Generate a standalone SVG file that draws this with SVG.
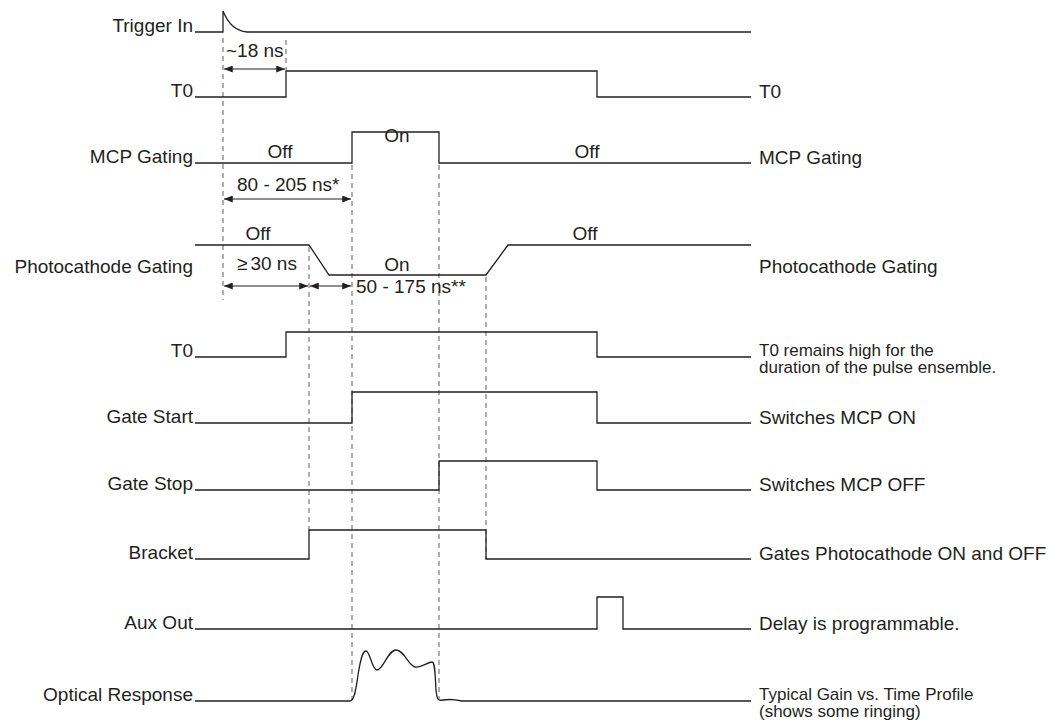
<svg xmlns="http://www.w3.org/2000/svg" width="1059" height="726" viewBox="0 0 1059 726">
<style>
text{font-family:"Liberation Sans",Arial,sans-serif;fill:#231f20;font-size:19px}
.l{text-anchor:end}
.c{text-anchor:middle}
.s{font-size:17px}
.sig{fill:none;stroke:#231f20;stroke-width:1.3}
.dash{fill:none;stroke:#6d6d6d;stroke-width:1.1;stroke-dasharray:5 4}
.dim{fill:none;stroke:#231f20;stroke-width:1.2;marker-start:url(#a);marker-end:url(#a)}
</style>
<defs>
<marker id="a" viewBox="0 0 10 8" refX="10" refY="4" markerWidth="11" markerHeight="7" markerUnits="userSpaceOnUse" orient="auto-start-reverse">
<path d="M0,0 L10,4 L0,8 Z" fill="#231f20"/>
</marker>
</defs>
<rect width="1059" height="726" fill="#fff"/>
<g id="connectors">
<line class="dash" x1="223" y1="38" x2="223" y2="300"/>
<line class="dash" x1="286" y1="40" x2="286" y2="70"/>
<line class="dash" x1="309" y1="247" x2="309" y2="530"/>
<line class="dash" x1="352" y1="165" x2="352" y2="700"/>
<line class="dash" x1="439" y1="165" x2="439" y2="700"/>
<line class="dash" x1="486" y1="277" x2="486" y2="559"/>
<line class="dim" x1="224" y1="69" x2="285" y2="69"/>
<line class="dim" x1="224" y1="199" x2="351" y2="199"/>
<line class="dim" x1="224" y1="286" x2="308" y2="286"/>
<line class="dim" x1="310" y1="286" x2="351" y2="286"/>
<text x="226" y="57">~18 ns</text>
<text x="237" y="191">80 - 205 ns*</text>
<text x="237" y="270">≥<tspan dx="3">30 ns</tspan></text>
<text x="356" y="293">50 - 175 ns**</text>
</g>
<g id="trigger-in">
<text class="l" x="193" y="32">Trigger In</text>
<path class="sig" d="M195,32 H223 V11 C227,21 234,31 247,32 H751"/>
</g>
<g id="t0-top">
<text class="l" x="193" y="97">T0</text>
<path class="sig" d="M195,97 H286 V71 H597 V97 H751"/>
<text x="759" y="98">T0</text>
</g>
<g id="mcp-gating">
<text class="l" x="193" y="163">MCP Gating</text>
<path class="sig" d="M195,163 H352 V132 H439 V163 H751"/>
<text class="c" x="280" y="158">Off</text>
<text class="c" x="397" y="142">On</text>
<text class="c" x="587" y="158">Off</text>
<text x="759" y="164">MCP Gating</text>
</g>
<g id="photocathode-gating">
<text class="l" x="193" y="273">Photocathode Gating</text>
<path class="sig" d="M195,245 H309 L329,275 H486 L508,245 H751"/>
<text class="c" x="258" y="240">Off</text>
<text class="c" x="397" y="271">On</text>
<text class="c" x="585" y="240">Off</text>
<text x="759" y="273">Photocathode Gating</text>
</g>
<g id="t0">
<text class="l" x="193" y="357">T0</text>
<path class="sig" d="M195,357 H286 V332 H597 V357 H751"/>
<text class="s" x="759" y="356">T0 remains high for the</text>
<text class="s" x="759" y="373">duration of the pulse ensemble.</text>
</g>
<g id="gate-start">
<text class="l" x="193" y="423">Gate Start</text>
<path class="sig" d="M195,423 H352 V392 H597 V423 H751"/>
<text x="759" y="424">Switches MCP ON</text>
</g>
<g id="gate-stop">
<text class="l" x="193" y="490">Gate Stop</text>
<path class="sig" d="M195,490 H439 V461 H597 V490 H751"/>
<text x="759" y="491">Switches MCP OFF</text>
</g>
<g id="bracket">
<text class="l" x="193" y="559">Bracket</text>
<path class="sig" d="M195,559 H309 V530 H486 V559 H751"/>
<text x="759" y="560">Gates Photocathode ON and OFF</text>
</g>
<g id="aux-out">
<text class="l" x="193" y="629">Aux Out</text>
<path class="sig" d="M195,629 H597 V597 H623 V629 H751"/>
<text x="759" y="630">Delay is programmable.</text>
</g>
<g id="optical-response">
<text class="l" x="193" y="701">Optical Response</text>
<path class="sig" d="M195,701 H350 C354,701 356,690 358,675 C361,656 363,651 366,651 C370,651 372,670 377,670 C383,670 388,650 396,650 C404,650 408,665 415,667 C421,668 428,662 432,662 C435,662 435,672 436,690 C437,700 438,701 443,700 C449,699 453,699 462,701 H751"/>
<text class="s" x="759" y="700">Typical Gain vs. Time Profile</text>
<text class="s" x="759" y="717">(shows some ringing)</text>
</g>
</svg>
